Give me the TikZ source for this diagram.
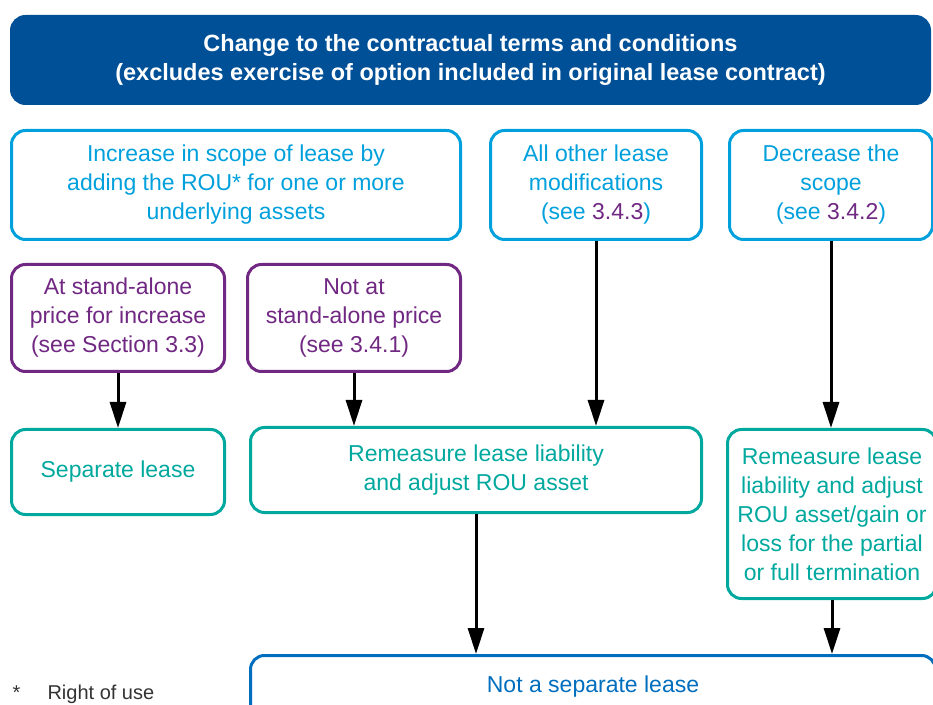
\documentclass[tikz,border=0pt]{standalone}
\usepackage{fontspec}
\setmainfont{Liberation Sans}
\usetikzlibrary{arrows.meta}
\definecolor{headblue}{RGB}{0,80,152}
\definecolor{lightblue}{RGB}{0,160,220}
\definecolor{kpurple}{RGB}{112,40,130}
\definecolor{kteal}{RGB}{0,168,158}
\definecolor{midblue}{RGB}{0,110,190}

\begin{document}
\begin{tikzpicture}[x=1pt,y=1pt,
  box/.style={rounded corners=14pt, line width=3pt, align=center, inner sep=0pt, font=\fontsize{23}{29}\selectfont},
  scopebox/.style={box, draw=lightblue, text=lightblue},
  pricebox/.style={box, draw=kpurple, text=kpurple},
  resultbox/.style={box, draw=kteal, text=kteal},
  flow/.style={-{Triangle[length=26pt,width=16pt]}, line width=3pt}]
\clip (0,0) rectangle (933,704);

% header
\node[box, fill=headblue, draw=headblue, text=white, font=\bfseries\fontsize{23.5}{29}\selectfont,
  minimum width=918pt, minimum height=87pt] (head) at (470.5,644)
  {Change to the contractual terms and conditions\\(excludes exercise of option included in original lease contract)};

% type of change
\node[scopebox, minimum width=449pt, minimum height=109pt] (incr) at (236,519)
  {Increase in scope of lease by\\adding the ROU* for one or more\\underlying assets};
\node[scopebox, minimum width=211pt, minimum height=109pt] (other) at (596,519)
  {All other lease\\modifications\\(see {\color{kpurple}3.4.3})};
\node[scopebox, minimum width=203pt, minimum height=109pt] (decr) at (831,519)
  {Decrease the\\scope\\(see {\color{kpurple}3.4.2})};

% price
\node[pricebox, minimum width=213pt, minimum height=107pt] (atsap) at (118,386)
  {At stand-alone\\price for increase\\(see Section 3.3)};
\node[pricebox, minimum width=213pt, minimum height=107pt] (notsap) at (354,386)
  {Not at\\stand-alone price\\(see 3.4.1)};

% outcome
\node[resultbox, minimum width=213pt, minimum height=85pt] (sep) at (118,232) {Separate lease};
\node[resultbox, minimum width=451pt, minimum height=85pt] (remeas) at (476,234)
  {Remeasure lease liability\\and adjust ROU asset};
\node[resultbox, minimum width=209pt, minimum height=169pt] (term) at (832,190)
  {Remeasure lease\\liability and adjust\\ROU asset/gain or\\loss for the partial\\or full termination};
\node[box, draw=midblue, text=midblue, minimum width=685pt, minimum height=63pt] (notsep) at (593,17)
  {Not a separate lease};

% footnote
\node[anchor=base west, text=black!80, font=\fontsize{20}{24}\selectfont] (star) at (9,5) {*};
\node[anchor=base west, text=black!80, font=\fontsize{20}{24}\selectfont] (rou) at (44,5) {Right of use};

% arrows
\draw[flow] (atsap) -- (sep);
\draw[flow] (notsap.south) -- (notsap.south |- remeas.north);
\draw[flow] (other.south) -- (other.south |- remeas.north);
\draw[flow] (decr.south) -- (decr.south |- term.north);
\draw[flow] (remeas.south) -- (remeas.south |- notsep.north);
\draw[flow] (term.south) -- (term.south |- notsep.north);
\end{tikzpicture}
\end{document}
